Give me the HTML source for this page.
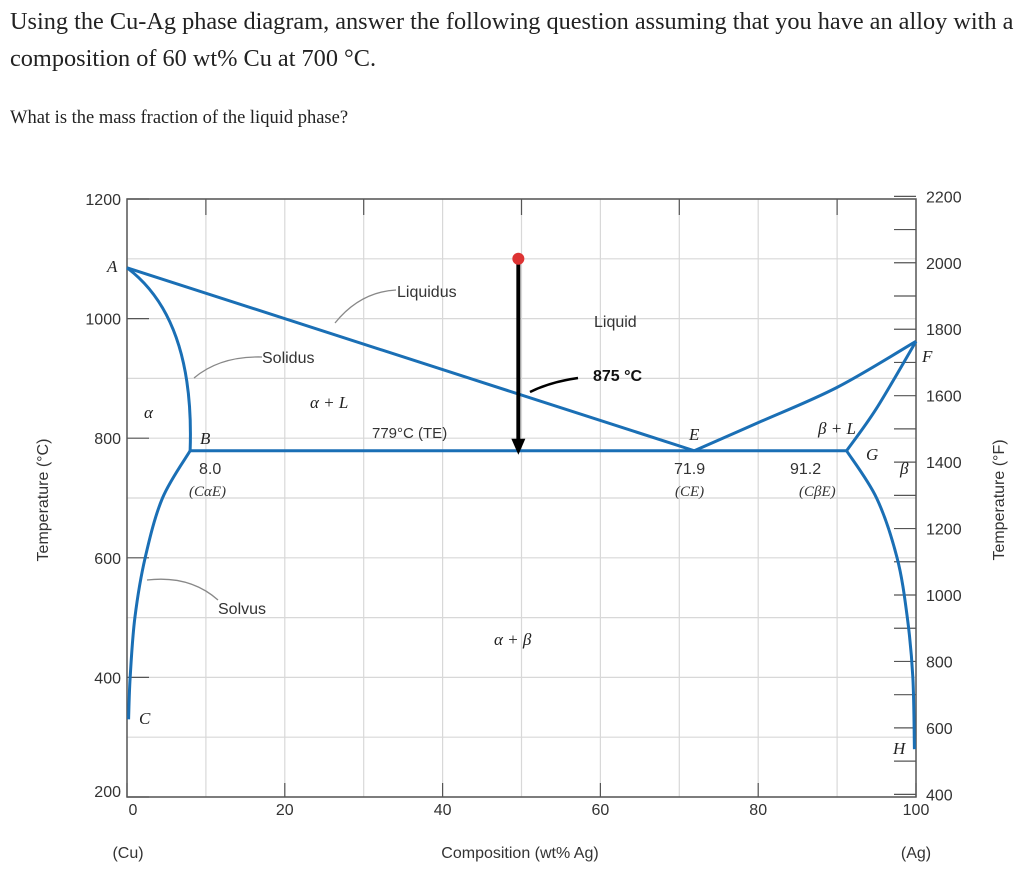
<!DOCTYPE html>
<html><head><meta charset="utf-8">
<style>
body{margin:0;background:#fff;width:1024px;height:877px;overflow:hidden;font-family:"Liberation Serif",serif;}
.q{position:absolute;left:10px;color:#222;white-space:nowrap;}
</style></head><body>
<div class="q" style="top:8px;font-size:24.3px;">Using the Cu-Ag phase diagram, answer the following question assuming that you have an alloy with a</div>
<div class="q" style="top:45px;font-size:24.3px;">composition of 60 wt% Cu at 700 °C.</div>
<div class="q" style="top:108px;font-size:18.5px;">What is the mass fraction of the liquid phase?</div>
<svg id="chart" width="1024" height="877" style="position:absolute;left:0;top:0" font-family="Liberation Sans, sans-serif"></svg>
<script>
const cTicks=[200,400,600,800,1000,1200];
const fTicks=[400,600,800,1000,1200,1400,1600,1800,2000,2200];
const xTicks=[0,20,40,60,80,100];
const liquidusL=[[0,1085],[71.9,779]];
const solidusL=[[0,1085],[8.6,1000],[8,779]];
const solvusL=[[8,779],[4.5,700],[2.3,600],[1.0,500],[0.4,400],[0.2,330]];
const liquidusR=[[71.9,779],[80,826],[90,885],[100,962]];
const solidusR=[[91.2,779],[95,850],[100,962]];
const solvusR=[[91.2,779],[95,700],[97.6,600],[98.9,500],[99.6,400],[99.8,280]];
const eutectic=[[8,779],[91.2,779]];
const X0=127,X1=916,Y0=797,Y1=199;
const sx=v=>X0+(v/100)*(X1-X0);
const sy=t=>Y0-(t-200)/1000*(Y0-Y1);
const syF=f=>sy((f-32)/1.8);
const svg=document.getElementById('chart');
const NS='http://www.w3.org/2000/svg';
function mk(tag,attrs,txt){const e=document.createElementNS(NS,tag);for(const k in attrs)e.setAttribute(k,attrs[k]);if(txt!==undefined)e.textContent=txt;svg.appendChild(e);return e;}
for(let t=200;t<=1200;t+=100){const g=mk('line',{x1:X0,x2:X1,y1:sy(t),y2:sy(t),stroke:'#d8d8d8','stroke-width':1.2});

}
for(let w=10;w<100;w+=10){const g=mk('line',{x1:sx(w),x2:sx(w),y1:Y1,y2:Y0,stroke:'#d8d8d8','stroke-width':1.2});

}
const frame=mk('rect',{x:X0,y:Y1,width:X1-X0,height:Y0-Y1,fill:'none',stroke:'#555','stroke-width':1.5});


cTicks.forEach(t=>{const l=mk('line',{x1:X0,x2:X0+22,y1:sy(t),y2:sy(t),stroke:'#555','stroke-width':1.2});


const tx=mk('text',{x:X0-6,y:sy(t)+(t===200?0:6),'text-anchor':'end','font-size':16,fill:'#333'},t);

});
for(let f=400;f<=2200;f+=100){const l=mk('line',{x1:X1,x2:X1-22,y1:syF(f),y2:syF(f),stroke:'#555','stroke-width':1.2});

}
fTicks.forEach(f=>{const tx=mk('text',{x:X1+10,y:syF(f)+6,'font-size':16,fill:'#333'},f);

});
xTicks.forEach(w=>{const l=mk('line',{x1:sx(w),x2:sx(w),y1:Y0,y2:Y0-14,stroke:'#555','stroke-width':1.2});


const tx=mk('text',{x:sx(w)+(w===0?6:0),y:Y0+18,'text-anchor':'middle','font-size':16,fill:'#333'},w);

});
for(let w=10;w<100;w+=20){const l=mk('line',{x1:sx(w),x2:sx(w),y1:Y1,y2:Y1+16,stroke:'#555','stroke-width':1.2});

}
function curve(pts,name,quad){let d='M'+sx(pts[0][0])+','+sy(pts[0][1]);
if(quad){d+=` Q${sx(pts[1][0])},${sy(pts[1][1])} ${sx(pts[2][0])},${sy(pts[2][1])}`;}
else if(pts.length>2){for(let i=1;i<pts.length;i++){const p0=pts[Math.max(i-2,0)],p1=pts[i-1],p2=pts[i],p3=pts[Math.min(i+1,pts.length-1)];
const c1x=sx(p1[0])+(sx(p2[0])-sx(p0[0]))/6,c1y=sy(p1[1])+(sy(p2[1])-sy(p0[1]))/6;
const c2x=sx(p2[0])-(sx(p3[0])-sx(p1[0]))/6,c2y=sy(p2[1])-(sy(p3[1])-sy(p1[1]))/6;
d+=` C${c1x},${c1y} ${c2x},${c2y} ${sx(p2[0])},${sy(p2[1])}`;}}
else d+=' L'+sx(pts[1][0])+','+sy(pts[1][1]);
const p=mk('path',{d:d,fill:'none',stroke:'#1a6fb5','stroke-width':3});

}
curve(liquidusL,'liquidus-left');curve(solidusL,'solidus-left',true);curve(solvusL,'solvus-left');
curve(liquidusR,'liquidus-right');curve(solidusR,'solidus-right');curve(solvusR,'solvus-right');curve(eutectic,'eutectic-isotherm');
const ax=sx(49.6);
const al=mk('line',{x1:ax,x2:ax,y1:sy(1100),y2:sy(779)-10,stroke:'#000','stroke-width':4});


const ah=mk('polygon',{points:`${ax-7},${sy(779)-12} ${ax+7},${sy(779)-12} ${ax},${sy(779)+4}`,fill:'#000'});


const dot=mk('circle',{cx:ax,cy:sy(1100),r:6,fill:'#d33'});


const la=mk('path',{d:`M578,378 Q550,382 530,392`,fill:'none',stroke:'#000','stroke-width':2.5});


function lbl(x,y,t,name,o){const e=mk('text',Object.assign({x:x,y:y,'font-size':16,fill:'#333'},o||{}),t);

return e;}
lbl(593,381,'875 °C','label-875',{'font-weight':'bold',fill:'#111'});
lbl(397,297,'Liquidus','label-liquidus');
lbl(262,363,'Solidus','label-solidus');
lbl(218,614,'Solvus','label-solvus');
lbl(594,327,'Liquid','label-liquid');
lbl(372,438,'779°C (TE)','label-te',{'font-size':15});
lbl(199,474,'8.0','label-8');lbl(189,496,'(CαE)','label-cae',{'font-family':'Liberation Serif, serif','font-style':'italic','font-size':15});
lbl(674,474,'71.9','label-719');lbl(675,496,'(CE)','label-ce',{'font-family':'Liberation Serif, serif','font-style':'italic','font-size':15});
lbl(790,474,'91.2','label-912');lbl(799,496,'(CβE)','label-cbe',{'font-family':'Liberation Serif, serif','font-style':'italic','font-size':15});
const it={'font-family':'Liberation Serif, serif','font-style':'italic','font-size':17,fill:'#222'};
lbl(107,272,'A','point-a',it);lbl(200,444,'B','point-b',it);lbl(139,724,'C','point-c',it);
lbl(689,440,'E','point-e',it);lbl(922,362,'F','point-f',it);lbl(866,460,'G','point-g',it);lbl(893,754,'H','point-h',it);
lbl(144,418,'α','label-alpha',it);lbl(900,474,'β','label-beta',it);
lbl(310,408,'α + L','label-alpha-l',it);lbl(818,434,'β + L','label-beta-l',it);lbl(494,645,'α + β','label-alpha-beta',it);
const p1=mk('path',{d:'M396,290 Q360,292 335,323',fill:'none',stroke:'#888','stroke-width':1.3});
const p2=mk('path',{d:'M262,357 Q220,356 194,378',fill:'none',stroke:'#888','stroke-width':1.3});
const p3=mk('path',{d:'M218,600 Q190,575 147,580',fill:'none',stroke:'#888','stroke-width':1.3});
lbl(520,858,'Composition (wt% Ag)','x-axis-title',{'text-anchor':'middle'});
lbl(128,858,'(Cu)','label-cu',{'text-anchor':'middle'});
lbl(916,858,'(Ag)','label-ag',{'text-anchor':'middle'});
lbl(0,0,'Temperature (°C)','y-axis-title-left',{transform:'translate(48,500) rotate(-90)','text-anchor':'middle'});
lbl(0,0,'Temperature (°F)','y-axis-title-right',{transform:'translate(1004,500) rotate(-90)','text-anchor':'middle'});
</script>
</body></html>
